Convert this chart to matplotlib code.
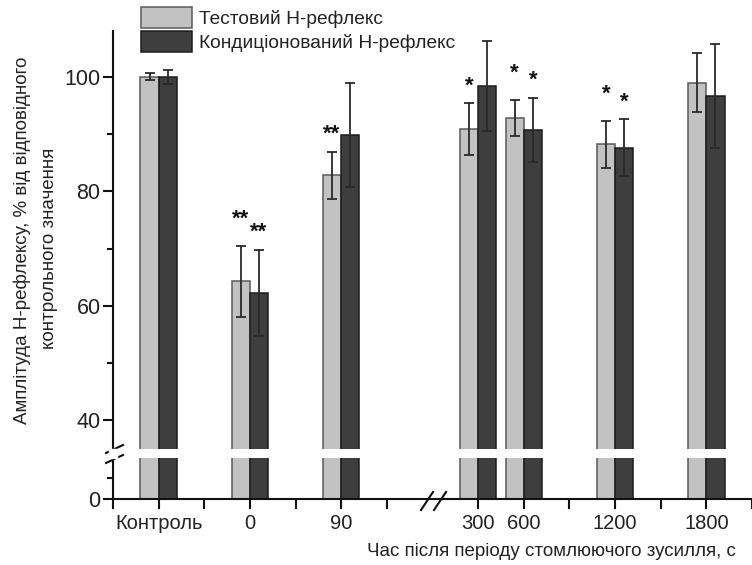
import numpy as np
import matplotlib
matplotlib.use('Agg')
import matplotlib.pyplot as plt
from matplotlib.patches import Patch

plt.rcParams['font.family'] = ['Liberation Sans', 'DejaVu Sans']

# ---------------- data ----------------
categories = ['Контроль', '0', '90', '300', '600', '1200', '1800']
time_s = [None, 0, 90, 300, 600, 1200, 1800]
test_vals = [100.0, 64.3, 82.8, 90.9, 92.8, 88.2, 99.0]
test_err = [0.6, 6.2, 4.1, 4.5, 3.1, 4.1, 5.1]
cond_vals = [100.0, 62.3, 89.9, 98.4, 90.7, 87.6, 96.6]
cond_err = [1.2, 7.5, 9.1, 7.9, 5.6, 5.0, 9.1]
test_stars = ['', '**', '**', '*', '*', '*', '']
cond_stars = ['', '**', '', '', '*', '*', '']
series_names = ['Тестовий Н-рефлекс', 'Кондиціонований Н-рефлекс']
xlabel = 'Час після періоду стомлюючого зусилля, с'
ylabel_lines = ['Амплітуда Н-рефлексу, % від відповідного', 'контрольного значення']
y_major = [0, 40, 60, 80, 100]
y_minor = [5, 50, 70, 90]

# ---------------- styling ----------------
LIGHT = '#c2c2c2'
LIGHT_EDGE = '#5a5a5a'
DARK = '#3e3e3e'
DARK_EDGE = '#1c1c1c'
ERR = '#2a2a2a'

W, H = 752, 565
fig = plt.figure(figsize=(W / 100, H / 100), dpi=100)
ax_left, ax_right, ax_bottom, ax_top = 113, 752, 499, 31
ax = fig.add_axes([ax_left / W, 1 - ax_bottom / H,
                   (ax_right - ax_left) / W, (ax_bottom - ax_top) / H])


# broken y axis (0..10 compressed, 35.. upward)
YB = np.array([0.0, 10.0, 35.0, 200.0])
YD = np.array([0.0, 42.0, 50.0, 50.0 + 165.0 * 5.733])


def _pw(v, xs, ys):
    v = np.asarray(v, dtype=float)
    out = np.interp(v, xs, ys)
    s0 = (ys[1] - ys[0]) / (xs[1] - xs[0])
    s1 = (ys[-1] - ys[-2]) / (xs[-1] - xs[-2])
    out = np.where(v < xs[0], ys[0] + (v - xs[0]) * s0, out)
    out = np.where(v > xs[-1], ys[-1] + (v - xs[-1]) * s1, out)
    return out


ax.set_yscale('function', functions=(lambda v: _pw(v, YB, YD),
                                     lambda v: _pw(v, YD, YB)))


# broken x axis: categorical left part, linear time right part
def cat_pos(t):
    if t is None:
        return 0.0
    if t <= 90:
        return 1.0 + t / 90.0
    return 3.0 + t / 600.0


pos = np.array([cat_pos(t) for t in time_s])
bw = 0.2

ax.bar(pos - bw / 2, test_vals, width=bw, color=LIGHT, edgecolor=LIGHT_EDGE,
       linewidth=1.1, zorder=1, label=series_names[0])
ax.bar(pos + bw / 2, cond_vals, width=bw, color=DARK, edgecolor=DARK_EDGE,
       linewidth=1.1, zorder=1, label=series_names[1])
ax.errorbar(pos - bw / 2, test_vals, yerr=test_err, fmt='none', ecolor=ERR,
            elinewidth=1.3, capsize=3.7, capthick=1.3, zorder=4)
ax.errorbar(pos + bw / 2, cond_vals, yerr=cond_err, fmt='none', ecolor=ERR,
            elinewidth=1.3, capsize=3.7, capthick=1.3, zorder=4)

# significance stars
STAR_FS = 16
BASE_OFF = 8.5
STAGGER = 7
for i in range(len(categories)):
    both = bool(test_stars[i]) and bool(cond_stars[i])
    if test_stars[i]:
        off = BASE_OFF + (STAGGER if both else 0)
        ax.annotate(test_stars[i], xy=(pos[i] - bw / 2, test_vals[i] + test_err[i]),
                    xytext=(0, off), textcoords='offset points', ha='center',
                    va='baseline', fontsize=STAR_FS, fontweight='bold', color='#111111')
    if cond_stars[i]:
        ax.annotate(cond_stars[i], xy=(pos[i] + bw / 2, cond_vals[i] + cond_err[i]),
                    xytext=(0, BASE_OFF), textcoords='offset points', ha='center',
                    va='baseline', fontsize=STAR_FS, fontweight='bold', color='#111111')

ax.set_xlim(-0.5, 6.5)
ax.set_ylim(0, 108)

# break band across bars
ax.axhspan(9.75, 35.0, color='white', zorder=3, lw=0)
ax.spines['left'].set_zorder(2.5)

for s in ['top', 'right']:
    ax.spines[s].set_visible(False)
for s in ['left', 'bottom']:
    ax.spines[s].set_linewidth(1.5)
    ax.spines[s].set_color('#111111')

ax.set_xticks(pos)
ax.set_xticklabels(categories, fontsize=14.5)
ax.set_xticks([-0.5, 0.5, 1.5, 2.5, 4.5, 5.5, 6.5], minor=True)
ax.set_yticks(y_major)
ax.set_yticklabels([str(v) for v in y_major], fontsize=15.5)
ax.set_yticks(y_minor, minor=True)
ax.tick_params(axis='both', which='major', direction='out', length=7, width=1.5,
               color='#111111', pad=2, labelcolor='#222222')
ax.tick_params(axis='x', which='minor', direction='out', length=7, width=1.5,
               color='#111111')
ax.tick_params(axis='y', which='minor', direction='out', length=4, width=1.5,
               color='#111111')
ax.tick_params(axis='x', which='major', pad=4)


# break marks (drawn in display pixels via figure fraction)
def fig_line(x0, y0, x1, y1):
    fig.add_artist(plt.Line2D([x0 / W, x1 / W], [1 - y0 / H, 1 - y1 / H],
                              color='#111111', lw=1.5))


# y-axis break: white gap on spine + two slashes
fig.add_artist(plt.Rectangle((109 / W, 1 - 458 / H), 8 / W, 9 / H,
                             color='white', transform=fig.transFigure, zorder=5))
fig_line(106, 453, 123, 445)
fig_line(106, 463, 123, 455)
# x-axis break slashes
fig_line(421, 510, 433, 492)
fig_line(434, 510, 446, 492)

# legend
handles = [Patch(facecolor=LIGHT, edgecolor=LIGHT_EDGE, linewidth=1.1),
           Patch(facecolor=DARK, edgecolor=DARK_EDGE, linewidth=1.1)]
fig.legend(handles, series_names, loc='upper left',
           bbox_to_anchor=(141 / W, 1 - 7 / H), bbox_transform=fig.transFigure,
           frameon=False, fontsize=13.8, handlelength=2.65, handleheight=1.3,
           handletextpad=0.4, labelspacing=0.16, borderpad=0, borderaxespad=0,
           labelcolor='#222222')

# axis labels
fig.text(736 / W, 1 - 552 / H, xlabel, ha='right', va='center', fontsize=13.5,
         color='#222222')
fig.text(22 / W, 1 - 240 / H, ylabel_lines[0], rotation=90, ha='center',
         va='center', fontsize=13.5, color='#222222')
fig.text(50 / W, 1 - 148 / H, ylabel_lines[1], rotation=90, ha='center',
         va='top', fontsize=13.5, color='#222222')

fig.savefig('out.png', dpi=100)
